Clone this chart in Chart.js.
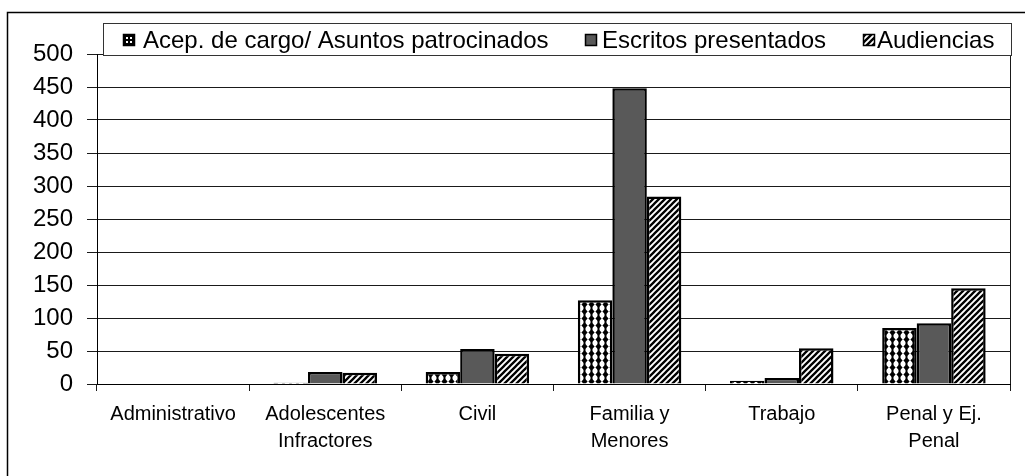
<!DOCTYPE html>
<html>
<head>
<meta charset="utf-8">
<script src="https://cdn.jsdelivr.net/npm/chart.js@4.4.1/dist/chart.umd.min.js"></script>
<style>
  html, body { margin: 0; padding: 0; background: #fff; }
  #wrap { position: relative; width: 1025px; height: 476px; }
</style>
</head>
<body>
<div id="wrap"><canvas id="chart"></canvas></div>
<script>
// DATA
const categories = [
  ['Administrativo'],
  ['Adolescentes', 'Infractores'],
  ['Civil'],
  ['Familia y', 'Menores'],
  ['Trabajo'],
  ['Penal y Ej.', 'Penal']
];
const seriesNames = ['Acep. de cargo/ Asuntos patrocinados', 'Escritos presentados', 'Audiencias'];
const aceptaciones = [0, 2, 18, 127, 5, 85];
const escritos = [0, 18, 53, 448, 9, 92];
const audiencias = [0, 17, 46, 284, 54, 145];
const yTicks = [0, 50, 100, 150, 200, 250, 300, 350, 400, 450, 500];

// PATTERNS
function dotPattern(){
  const c = document.createElement('canvas');
  c.width = 7; c.height = 7;
  const g = c.getContext('2d');
  g.fillStyle = '#fff'; g.fillRect(0, 0, 7, 7);
  g.fillStyle = '#000';
  g.beginPath();
  g.moveTo(3.5, 0.2); g.lineTo(6.6, 3.5); g.lineTo(3.5, 6.8); g.lineTo(0.4, 3.5);
  g.closePath(); g.fill();
  g.fillRect(2.5, 0, 2, 7);
  return g.createPattern(c, 'repeat');
}
function stripePattern(){
  const s = 6;
  const c = document.createElement('canvas');
  c.width = s; c.height = s;
  const g = c.getContext('2d');
  g.fillStyle = '#fff'; g.fillRect(0, 0, s, s);
  g.strokeStyle = '#000'; g.lineWidth = 2.3;
  g.beginPath();
  g.moveTo(-1, s + 1); g.lineTo(s + 1, -1);
  g.moveTo(-s / 2 - 1, s / 2 + 1); g.lineTo(s / 2 + 1, -s / 2 - 1);
  g.moveTo(s / 2 - 1, s * 1.5 + 1); g.lineTo(s * 1.5 + 1, s / 2 - 1);
  g.stroke();
  return g.createPattern(c, 'repeat');
}
const fills = [dotPattern(), '#595959', stripePattern()];

const gridColor = '#1a1a1a';
const font = 'Liberation Sans, Arial, sans-serif';

// legend box + frame drawn by hand (Excel style)
const boxLegend = {
  id: 'boxLegend',
  afterDraw(chart){
    const ctx = chart.ctx;
    const a = chart.chartArea;
    ctx.save();
    ctx.strokeStyle = '#000'; ctx.lineWidth = 1.5;
    ctx.strokeRect(7.5, 12.5, 1200, 700);
    ctx.strokeStyle = gridColor; ctx.lineWidth = 1;
    ctx.beginPath(); ctx.moveTo(a.right + 0.5, a.top); ctx.lineTo(a.right + 0.5, a.bottom); ctx.stroke();

    ctx.fillStyle = '#fff';
    ctx.fillRect(103, 23, 909, 33);
    ctx.strokeStyle = '#333'; ctx.lineWidth = 1;
    ctx.strokeRect(103.5, 23.5, 908, 32);

    const swX = [123, 585, 863];
    const txX = [143, 602, 877];
    ctx.font = '24px ' + font;
    ctx.textBaseline = 'middle';
    chart.data.datasets.forEach((ds, i) => {
      if (i === 0) {
        // tiny swatch of the dotted fill reads as dark with white specks
        ctx.fillStyle = '#000';
        ctx.fillRect(swX[i], 34, 12, 12);
        ctx.fillStyle = '#fff';
        [[3, 3], [7, 3], [3, 7], [7, 7]].forEach(p => ctx.fillRect(swX[i] + p[0], 34 + p[1], 2, 2));
      } else {
        ctx.fillStyle = ds.backgroundColor;
        ctx.fillRect(swX[i], 34, 12, 12);
      }
      ctx.strokeStyle = '#000'; ctx.lineWidth = 1.5;
      ctx.strokeRect(swX[i] + 0.5, 34.5, 11, 11);
      ctx.fillStyle = '#000';
      ctx.fillText(ds.label, txX[i], 41);
    });
    ctx.restore();
  }
};

const ctx = document.getElementById('chart');
new Chart(ctx, {
  type: 'bar',
  data: {
    labels: categories,
    datasets: [aceptaciones, escritos, audiencias].map((d, i) => ({
      label: seriesNames[i],
      data: d,
      backgroundColor: fills[i],
      borderColor: '#000',
      borderWidth: 2.5,
      categoryPercentage: 0.68,
      barPercentage: 1
    }))
  },
  options: {
    responsive: true,
    maintainAspectRatio: false,
    animation: false,
    layout: { padding: { top: 54, right: 15, left: 0, bottom: 0 } },
    plugins: { legend: { display: false }, tooltip: { enabled: false } },
    scales: {
      x: {
        grid: { display: true, drawOnChartArea: false, offset: true, tickLength: 7, color: gridColor },
        border: { color: '#000', width: 1 },
        ticks: { color: '#000', font: { family: font, size: 20, lineHeight: 1.35 }, padding: 10, maxRotation: 0, autoSkip: false },
        afterFit(scale){ scale.height = 92; }
      },
      y: {
        min: 0, max: 500,
        afterBuildTicks(scale){ scale.ticks = yTicks.map(v => ({ value: v })); },
        grid: { color: gridColor, tickLength: 10 },
        border: { color: '#000', width: 1 },
        ticks: { color: '#000', font: { family: font, size: 24 }, padding: 14 },
        afterFit(scale){ scale.width = 97; }
      }
    }
  },
  plugins: [boxLegend]
});
</script>
</body>
</html>
